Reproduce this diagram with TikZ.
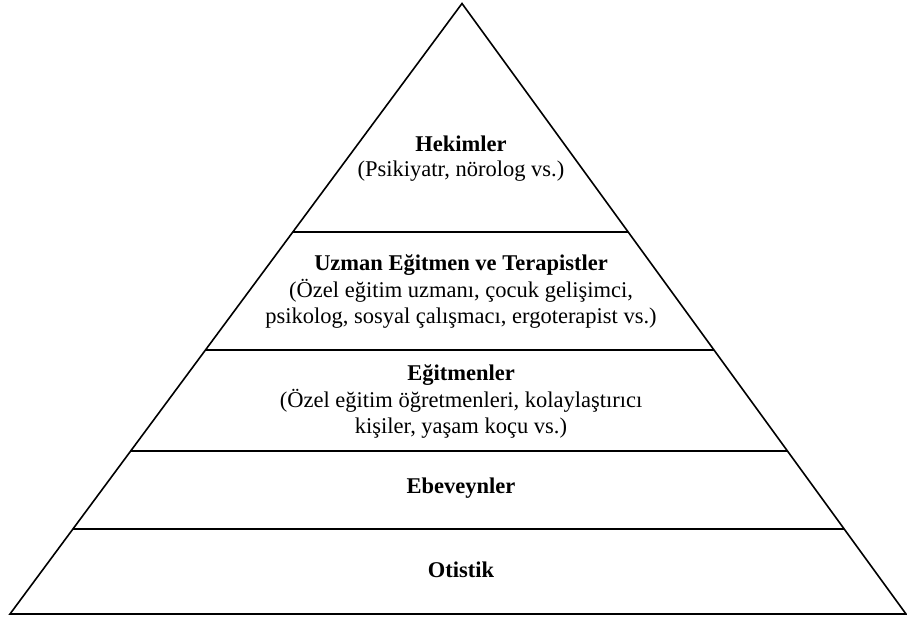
\documentclass[tikz,border=0pt]{standalone}
\usepackage{fontspec}
\setmainfont{Liberation Serif}
\usetikzlibrary{calc}
\tikzset{
  edge/.style={line width=1.6pt, line join=miter},
  title/.style={anchor=base, inner sep=0pt, font=\fontsize{22.5}{26}\selectfont\bfseries},
  sub/.style={anchor=base, inner sep=0pt, font=\fontsize{22.5}{26}\selectfont},
}
\begin{document}
\begin{tikzpicture}[x=1pt,y=-1pt]
\useasboundingbox (0,0) rectangle (907,621);
\coordinate (A) at (462,3.5);
\coordinate (BL) at (10,614);
\coordinate (BR) at (906,614);
\coordinate (L1) at ($(BL)!0.6257!(A)$);
\coordinate (R1) at ($(BR)!0.6257!(A)$);
\coordinate (L2) at ($(BL)!0.4324!(A)$);
\coordinate (R2) at ($(BR)!0.4324!(A)$);
\coordinate (L3) at ($(BL)!0.2670!(A)$);
\coordinate (R3) at ($(BR)!0.2670!(A)$);
\coordinate (L4) at ($(BL)!0.1392!(A)$);
\coordinate (R4) at ($(BR)!0.1392!(A)$);
\draw[edge] (A) -- (BL) -- (BR) -- cycle;
\draw[edge] (L1) -- (R1);
\draw[edge] (L2) -- (R2);
\draw[edge] (L3) -- (R3);
\draw[edge] (L4) -- (R4);
\node[title] (h1) at (461,151.5) {Hekimler};
\node[sub] (h2) at (461,176) {(Psikiyatr, nörolog vs.)};
\node[title] (u1) at (461,270) {Uzman Eğitmen ve Terapistler};
\node[sub] (u2) at (461,297) {(Özel eğitim uzmanı, çocuk gelişimci,};
\node[sub] (u3) at (461,323) {psikolog, sosyal çalışmacı, ergoterapist vs.)};
\node[title] (e1) at (461,380) {Eğitmenler};
\node[sub] (e2) at (461,407) {(Özel eğitim öğretmenleri, kolaylaştırıcı};
\node[sub] (e3) at (461,433) {kişiler, yaşam koçu vs.)};
\node[title] (p1) at (461,493.5) {Ebeveynler};
\node[title] (o1) at (461,577) {Otistik};
\end{tikzpicture}
\end{document}
